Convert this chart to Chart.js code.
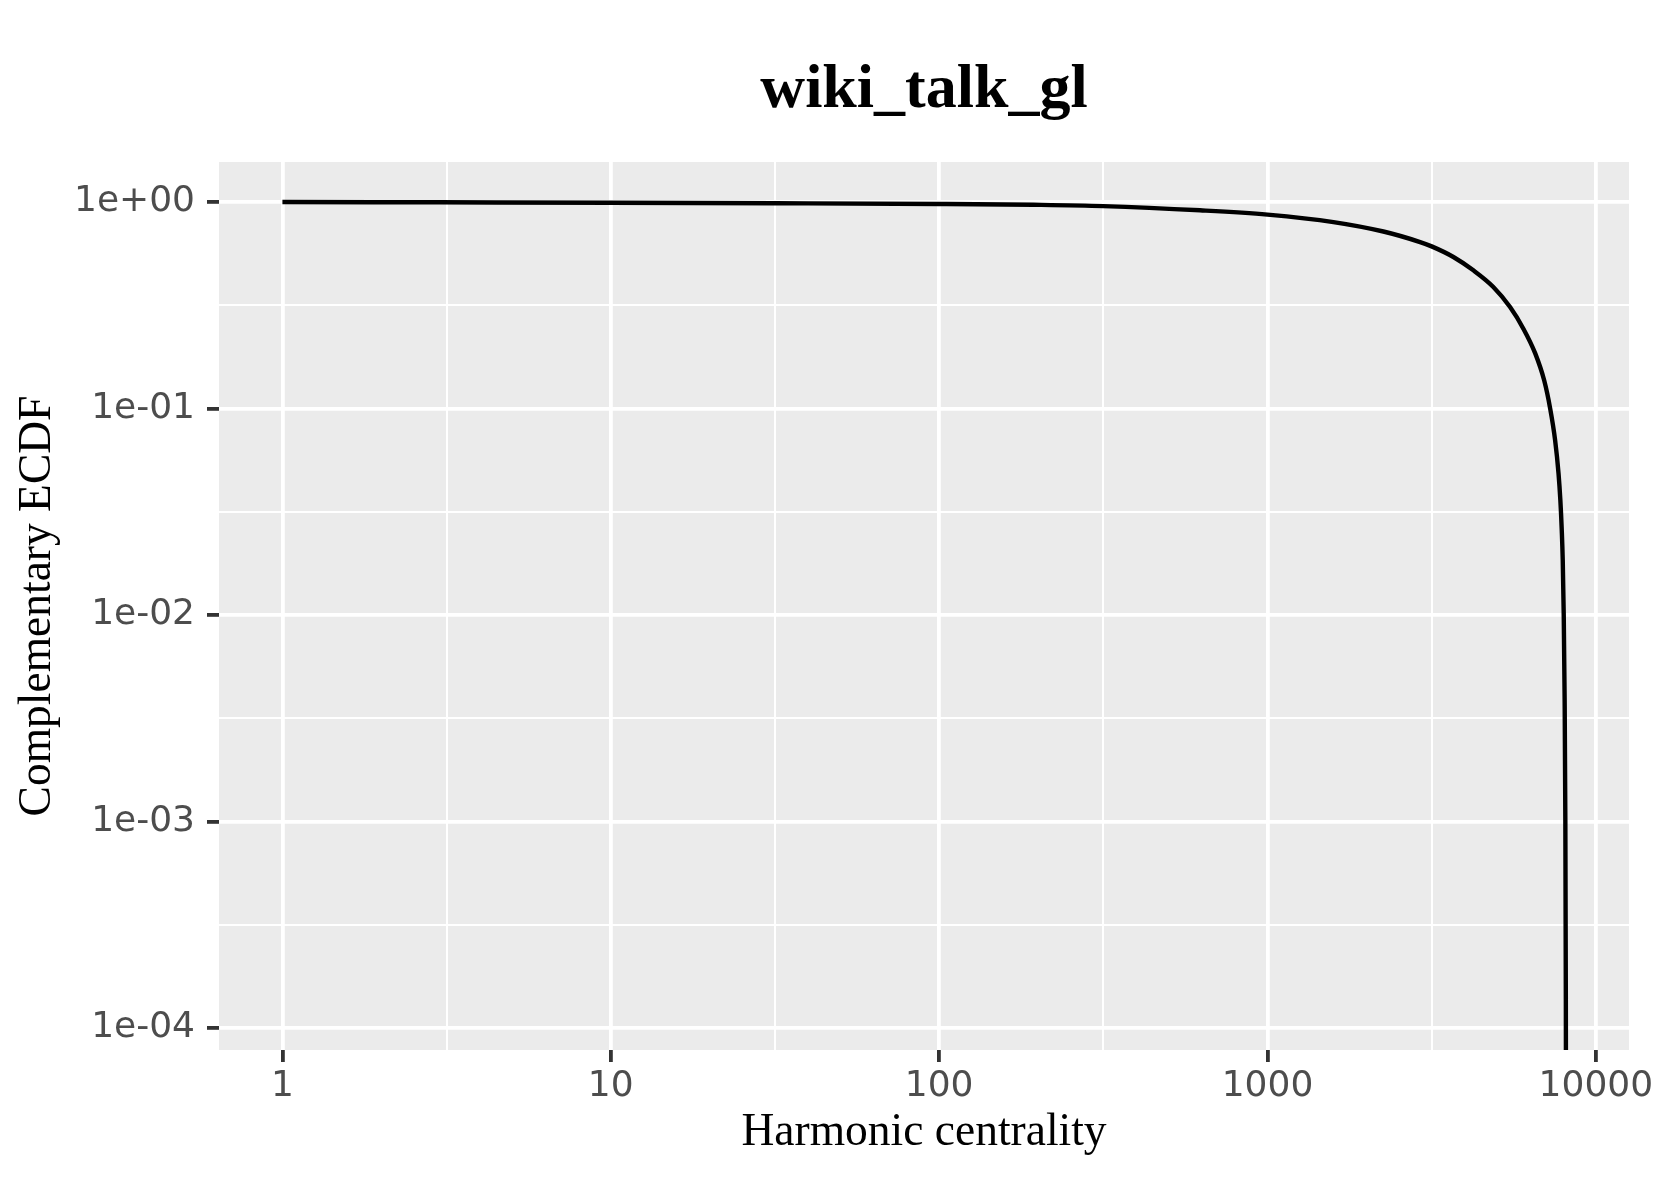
<!DOCTYPE html>
<html>
<head>
<meta charset="utf-8">
<script src="https://cdn.jsdelivr.net/npm/chart.js@4.4.0/dist/chart.umd.min.js"></script>
<style>
  html, body { margin: 0; padding: 0; background: #fff; }
  canvas { display: block; }
</style>
</head>
<body>
<canvas id="ccdf" width="1653" height="1181"></canvas>
<script>
// 補累積分布（読み取り値）
const harmonicValues = [1, 3, 10, 31.6, 100, 194, 316, 623, 1000, 1588, 2254, 2916, 3162, 3683, 4236, 4873, 5480, 6022, 6537, 6960, 7260, 7516, 7698, 7797, 7874, 7929, 7984, 8035, 8075, 8103, 8110];
const ccdfValues = [1.0, 0.997, 0.993, 0.987, 0.979, 0.970, 0.956, 0.912, 0.869, 0.80, 0.720, 0.640, 0.610, 0.542, 0.467, 0.388, 0.310, 0.243, 0.185, 0.137, 0.100, 0.0703, 0.0485, 0.0360, 0.0258, 0.0184, 0.0100, 0.0039, 0.0010, 0.000137, 0.00005];

// 目盛り（空文字は補助線）
const xTickValues = [1, 3.1623, 10, 31.623, 100, 316.23, 1000, 3162.3, 10000];
const xTickLabels = ['1', '', '10', '', '100', '', '1000', '', '10000'];
const yTickValues = [0.0001, 0.00031623, 0.001, 0.0031623, 0.01, 0.031623, 0.1, 0.31623, 1];
const yTickLabels = ['1e-04', '', '1e-03', '', '1e-02', '', '1e-01', '', '1e+00'];

const titleText = 'wiki_talk_gl';
const xTitle = 'Harmonic centrality';
const yTitle = 'Complementary ECDF';

const points = harmonicValues.map((x, i) => ({ x: x, y: ccdfValues[i] }));

// 背景とタイトル
const panelPlugin = {
    id: 'panel',
    beforeDraw(chart) {
        const { ctx, chartArea } = chart;
        ctx.save();
        ctx.fillStyle = '#ffffff';
        ctx.fillRect(0, 0, chart.width, chart.height);
        ctx.fillStyle = '#EBEBEB';
        ctx.fillRect(chartArea.left, chartArea.top, chartArea.right - chartArea.left, chartArea.bottom - chartArea.top);
        ctx.restore();
    },
    afterDraw(chart) {
        const { ctx, chartArea } = chart;
        ctx.save();
        ctx.font = 'bold 62px "Liberation Serif"';
        ctx.fillStyle = '#000000';
        ctx.textAlign = 'center';
        ctx.textBaseline = 'alphabetic';
        ctx.fillText(titleText, (chartArea.left + chartArea.right) / 2, 107);
        ctx.restore();
    }
};

function setTicks(values) {
    return function(scale) {
        scale.ticks = values.map(v => ({ value: v }));
    };
}

function gridFor(labels, values) {
    const isMajor = (c) => c.tick && labels[values.indexOf(c.tick.value)] !== '';
    return {
        color: '#ffffff',
        lineWidth: (c) => isMajor(c) ? 3.8 : 2.0,
        drawTicks: true,
        tickLength: 12,
        tickWidth: 3.8,
        tickColor: (c) => isMajor(c) ? '#333333' : 'rgba(0,0,0,0)'
    };
}

new Chart(document.getElementById('ccdf').getContext('2d'), {
    type: 'scatter',
    data: {
        datasets: [{
            data: points,
            showLine: true,
            borderColor: '#000000',
            borderWidth: 4.4,
            pointRadius: 0,
            cubicInterpolationMode: 'monotone'
        }]
    },
    options: {
        responsive: false,
        devicePixelRatio: 1,
        animation: false,
        layout: { padding: { top: 162, right: 24, left: 0, bottom: 0 } },
        plugins: {
            legend: { display: false },
            tooltip: { enabled: false }
        },
        scales: {
            x: {
                type: 'logarithmic',
                bounds: 'data',
                min: 0.641,
                max: 12618,
                afterBuildTicks: setTicks(xTickValues),
                afterFit: (scale) => {
                    scale.height = 131;
                    scale.paddingLeft = 0;
                    scale.paddingRight = 0;
                },
                grid: gridFor(xTickLabels, xTickValues),
                border: { display: false },
                ticks: {
                    autoSkip: false,
                    maxRotation: 0,
                    padding: 3,
                    color: '#4D4D4D',
                    font: { family: 'DejaVu Sans', size: 36 },
                    callback: (value) => xTickLabels[xTickValues.indexOf(value)] ?? ''
                },
                title: {
                    display: true,
                    text: xTitle,
                    color: '#000000',
                    font: { family: 'Liberation Serif', size: 45.5 },
                    padding: { top: 0, bottom: 21 }
                }
            },
            y: {
                type: 'logarithmic',
                bounds: 'data',
                min: 0.0000783,
                max: 1.563,
                afterBuildTicks: setTicks(yTickValues),
                afterFit: (scale) => {
                    scale.width = 219;
                    scale.paddingTop = 0;
                    scale.paddingBottom = 0;
                },
                grid: gridFor(yTickLabels, yTickValues),
                border: { display: false },
                ticks: {
                    autoSkip: false,
                    padding: 12,
                    color: '#4D4D4D',
                    font: { family: 'DejaVu Sans', size: 36 },
                    callback: (value) => yTickLabels[yTickValues.indexOf(value)] ?? ''
                },
                title: {
                    display: true,
                    text: yTitle,
                    color: '#000000',
                    font: { family: 'Liberation Serif', size: 45.5 },
                    padding: { top: 11, bottom: 0 }
                }
            }
        }
    },
    plugins: [panelPlugin]
});
</script>
</body>
</html>
